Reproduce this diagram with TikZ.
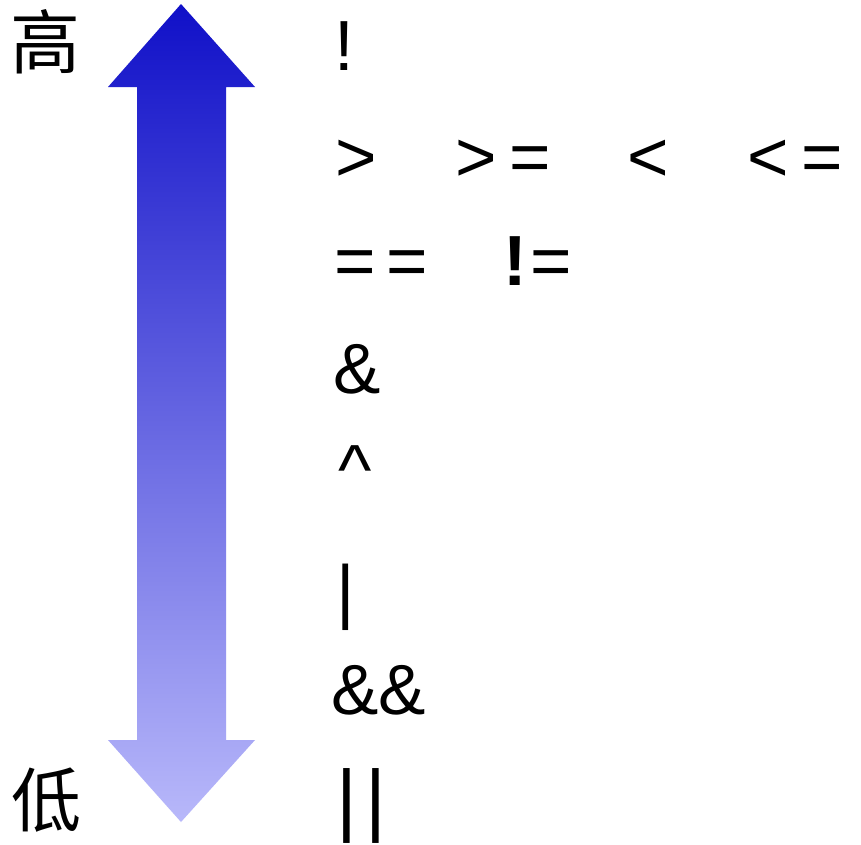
\documentclass[tikz,border=0pt]{standalone}
\usepackage{fontspec}
\setmainfont{Liberation Sans}
\newfontfamily\cjk{Noto Sans CJK SC}
\definecolor{arrtop}{RGB}{16,16,200}
\definecolor{arrbot}{RGB}{184,184,250}
\begin{document}
\begin{tikzpicture}[x=1pt,y=-1pt,
  op/.style={anchor=base west,inner sep=0pt,font=\fontsize{71}{71}\selectfont},
  bar/.style={anchor=base west,inner sep=0pt,font=\fontsize{80}{80}\selectfont},
  lvl/.style={anchor=center,inner sep=0pt,font=\cjk\fontsize{70}{70}\selectfont}]
\useasboundingbox (0,0) rectangle (861,844);
\fill[white] (0,0) rectangle (861,844);
\shade[top color=arrtop,bottom color=arrbot]
  (181,4) -- (255,87) -- (226,87) -- (226,740) -- (255,740) -- (181,822)
  -- (108,740) -- (137,740) -- (137,87) -- (108,87) -- cycle;
\node[lvl] (hi) at (45,42) {高};
\node[lvl] (lo) at (46,800) {低};
\node[op] (r1) at (334,70) {!};
\node[op] (r2a) at (335,181) {>};
\node[op] (r2b) at (455,181) {>};
\node[op] (r2c) at (509,181) {=};
\node[op] (r2d) at (627,181) {<};
\node[op] (r2e) at (747,181) {<};
\node[op] (r2f) at (801,181) {=};
\node[op] (r3a) at (334,285) {=};
\node[op] (r3b) at (386,285) {=};
\node[op,font=\bfseries\fontsize{71}{71}\selectfont] (r3c) at (503,285) {!};
\node[op] (r3d) at (530,285) {=};
\node[op] (r4) at (333,393) {\&};
\node[op] (r5) at (338,494) {\char`\^};
\node[op] (r6) at (336,615) {|};
\node[op] (r7) at (331,714) {\&\&};
\node[bar] (r8a) at (336,826) {|};
\node[bar] (r8b) at (365,826) {|};
\end{tikzpicture}
\end{document}
